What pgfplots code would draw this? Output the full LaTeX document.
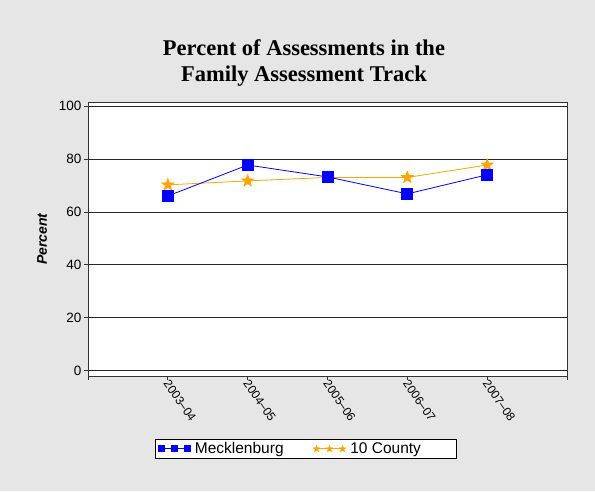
\documentclass[border=0pt]{standalone}
\usepackage{pgfplots}
\pgfplotsset{compat=1.18}
\usepackage{fontspec}
\setmainfont{Liberation Sans}
\newfontfamily\titlefont{Liberation Serif}
\definecolor{bg}{RGB}{230,230,230}
\definecolor{orng}{RGB}{255,165,0}
\pgfdeclareplotmark{fstar}{%
  \pgfpathmoveto{\pgfpointpolar{90}{\pgfplotmarksize}}%
  \pgfpathlineto{\pgfpointpolar{126}{0.42\pgfplotmarksize}}%
  \pgfpathlineto{\pgfpointpolar{162}{\pgfplotmarksize}}%
  \pgfpathlineto{\pgfpointpolar{198}{0.42\pgfplotmarksize}}%
  \pgfpathlineto{\pgfpointpolar{234}{\pgfplotmarksize}}%
  \pgfpathlineto{\pgfpointpolar{270}{0.42\pgfplotmarksize}}%
  \pgfpathlineto{\pgfpointpolar{306}{\pgfplotmarksize}}%
  \pgfpathlineto{\pgfpointpolar{342}{0.42\pgfplotmarksize}}%
  \pgfpathlineto{\pgfpointpolar{18}{\pgfplotmarksize}}%
  \pgfpathlineto{\pgfpointpolar{54}{0.42\pgfplotmarksize}}%
  \pgfpathclose\pgfusepathqfillstroke}
\begin{document}
\begin{tikzpicture}[x=1pt,y=1pt]
\fill[bg] (0,0) rectangle (595,491);
\node[align=center,font=\titlefont\bfseries\fontsize{22.5}{26}\selectfont] at (304,428) {Percent of Assessments in the\\Family Assessment Track};
\begin{axis}[
  at={(88pt,115pt)}, anchor=south west,
  scale only axis, width=479pt, height=274pt,
  xmin=0, xmax=6, ymin=-2, ymax=101.5,
  axis background/.style={fill=white},
  axis line style={black!80, line width=0.8pt},
  xtick={0,1,2,3,4,5,6},
  xticklabels={,2003--04,2004--05,2005--06,2006--07,2007--08,},
  xtick pos=bottom, ytick pos=left,
  ytick={0,20,40,60,80,100},
  ymajorgrids, grid style={black!85, line width=0.7pt},
  tick align=outside, tick style={black!80, line width=0.7pt}, major tick length=4pt,
  xticklabel style={rotate=-55, anchor=west, font=\fontsize{12}{13}\selectfont, xshift=-3pt, yshift=-2pt},
  yticklabel style={font=\fontsize{13.5}{14}\selectfont, xshift=1pt},
  /pgf/number format/assume math mode=true,
  ylabel={\textbf{\textit{Percent}}},
  ylabel style={font=\fontsize{14}{15}\selectfont, at={(-0.096,0.5)}, anchor=center},
  legend columns=2, reverse legend,
  legend style={at={(0.454,-0.266)}, anchor=center, draw=black, line width=0.6pt,
    font=\fontsize{15.5}{16}\selectfont, inner xsep=3pt, inner ysep=1pt,
    /tikz/every odd column/.append style={column sep=3pt},
    /tikz/every even column/.append style={column sep=28pt}},
  legend image code/.code={\draw[#1, mark=none] (0pt,0pt) -- (30pt,0pt);
    \draw[#1, only marks, mark size=3pt] plot coordinates {(2pt,0pt) (15pt,0pt) (28pt,0pt)};},
  clip=false,
]
\addplot[orng, line width=0.8pt, mark=fstar, mark size=6pt, mark options={fill=orng, draw=orng}] coordinates {(1,70.2) (2,71.7) (3,73) (4,73) (5,77.7)};
\addlegendentry{10 County\hspace*{30pt}}
\addplot[blue, line width=0.8pt, mark=square*, mark size=5.5pt, mark options={fill=blue, draw=blue}] coordinates {(1,66) (2,77.7) (3,73.2) (4,66.8) (5,74)};
\addlegendentry{Mecklenburg}
\end{axis}
\end{tikzpicture}
\end{document}
